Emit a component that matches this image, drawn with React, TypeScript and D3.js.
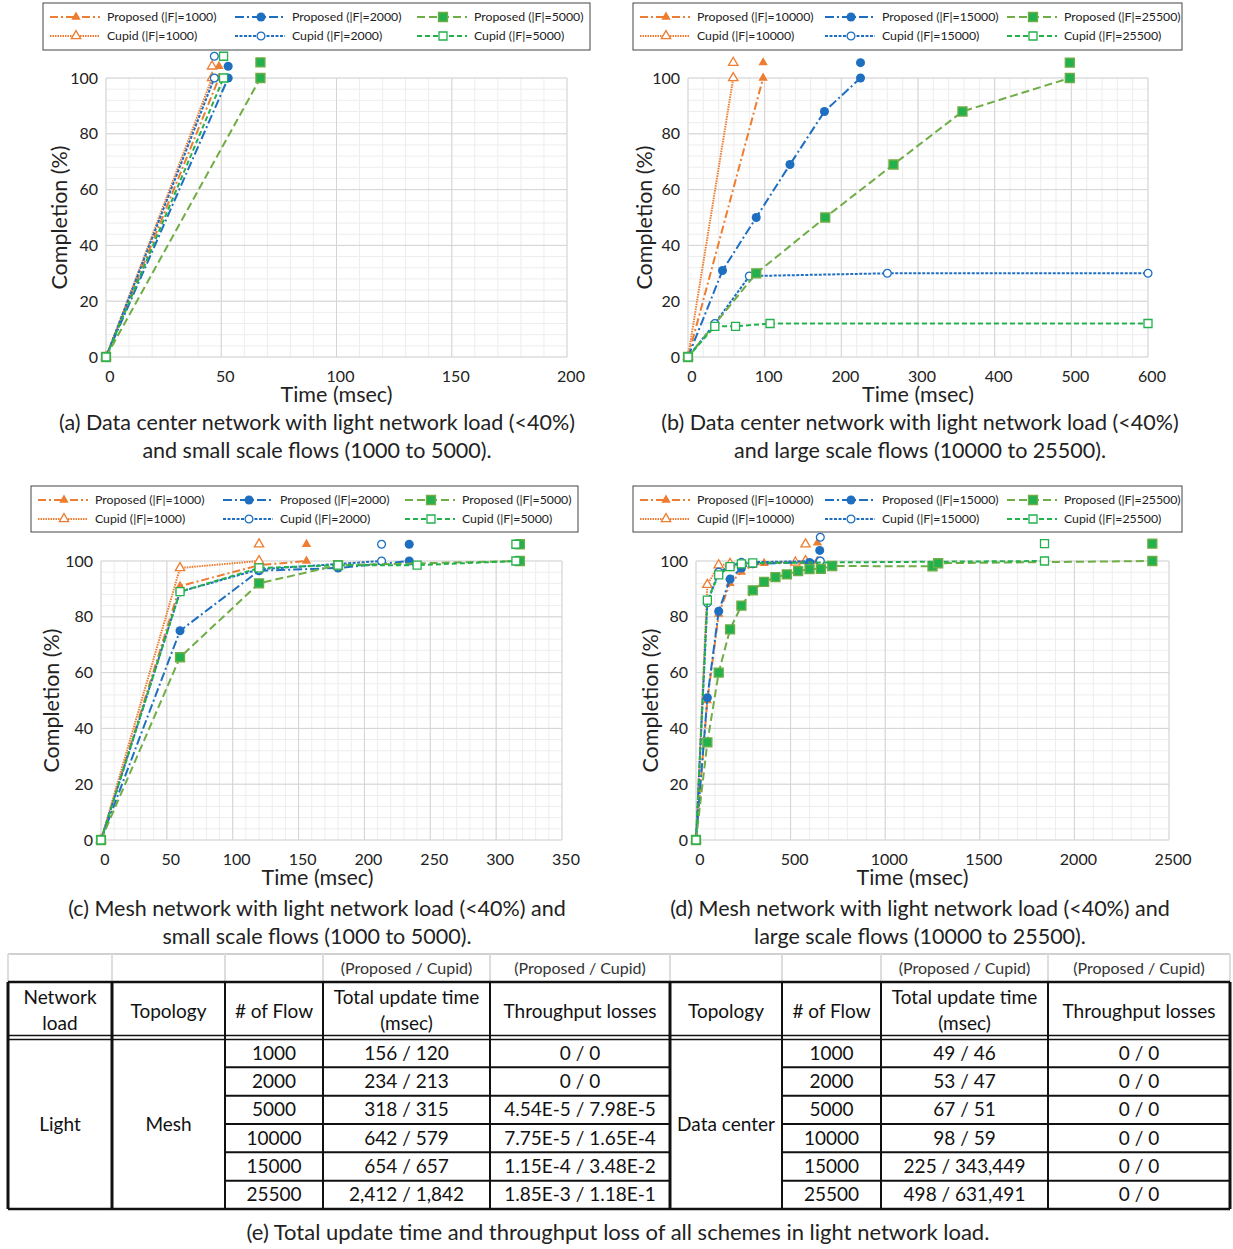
import React from 'react';
import * as d3 from 'd3';

const FONT = 'Lato, "Open Sans", sans-serif';
const ORANGE = '#ED7D31';
const BLUE = '#1F6FC0';
const GREEN_LINE = '#70AD47';
const GREEN = '#22B14C';

// ---- table data ----
const flows = [1000, 2000, 5000, 10000, 15000, 25500];
const meshProposed = [156, 234, 318, 642, 654, 2412];
const meshCupid = [120, 213, 315, 579, 657, 1842];
const meshLossProposed = [0, 0, 4.54e-5, 7.75e-5, 1.15e-4, 1.85e-3];
const meshLossCupid = [0, 0, 7.98e-5, 1.65e-4, 3.48e-2, 1.18e-1];
const dcProposed = [49, 53, 67, 98, 225, 498];
const dcCupid = [46, 47, 51, 59, 343449, 631491];
const dcLossProposed = [0, 0, 0, 0, 0, 0];
const dcLossCupid = [0, 0, 0, 0, 0, 0];

// ---- (a) data center, small flows ----
const aP1000 = [[0, 0], [49, 100]];
const aC1000 = [[0, 0], [46, 100]];
const aP2000 = [[0, 0], [53, 100]];
const aC2000 = [[0, 0], [47, 100]];
const aP5000 = [[0, 0], [67, 100]];
const aC5000 = [[0, 0], [51, 100]];
const aEnds = [[49, 104.2], [46, 104.2], [53, 104.2], [47, 107.8], [67, 105.6], [51, 107.8]];

// ---- (b) data center, large flows ----
const bP10000 = [[0, 0], [98, 100]];
const bC10000 = [[0, 0], [59, 100]];
const bP15000 = [[0, 0], [45, 31], [89, 50], [133, 69], [178, 88], [225, 100]];
const bC15000 = [[0, 0], [35, 12], [80, 29], [260, 30], [600, 30]];
const bP25500 = [[0, 0], [89, 30], [179, 50], [268, 69], [358, 88], [498, 100]];
const bC25500 = [[0, 0], [35, 11], [62, 11], [107, 12], [600, 12]];
const bEnds = [[98, 105.5], [59, 105.5], [225, 105.5], null, [498, 105.5], null];

// ---- (c) mesh, small flows ----
const cP1000 = [[0, 0], [60, 91], [120, 98.5], [156, 100]];
const cC1000 = [[0, 0], [60, 97.5], [120, 100]];
const cP2000 = [[0, 0], [60, 75], [120, 96.5], [180, 97.5], [234, 100]];
const cC2000 = [[0, 0], [60, 89], [120, 97], [213, 100]];
const cP5000 = [[0, 0], [60, 65.5], [120, 92], [180, 98.5], [318, 100]];
const cC5000 = [[0, 0], [60, 89], [120, 97.5], [180, 98.5], [240, 98.5], [315, 100]];
const cEnds = [[156, 106], [120, 106], [234, 106], [213, 106], [318, 106], [315, 106]];

// ---- (d) mesh, large flows ----
const dP10000 = [[0, 0], [60, 50], [120, 81], [180, 92], [240, 96], [300, 98.5], [360, 99.2], [642, 100]];
const dC10000 = [[0, 0], [60, 91.5], [120, 98.5], [180, 99], [525, 99.5], [579, 100]];
const dP15000 = [[0, 0], [60, 51], [120, 82], [180, 93.5], [240, 97.5], [300, 99], [600, 99.5], [654, 100]];
const dC15000 = [[0, 0], [60, 85], [120, 96], [180, 98], [240, 99.5], [657, 100]];
const dP25500 = [[0, 0], [60, 35], [120, 60], [180, 75.5], [240, 84], [300, 89.5], [360, 92.5], [420, 94.2],
  [480, 95.2], [540, 96.4], [600, 97.1], [660, 97.2], [720, 98.2], [1250, 98.1], [1280, 99.2], [2412, 100]];
const dC25500 = [[0, 0], [60, 86], [120, 95], [180, 98], [240, 99], [300, 99.3], [1842, 100]];
const dEnds = [[642, 106.5], [579, 106], [654, 103.8], [657, 108.5], [2412, 106.2], [1842, 106.2]];

const smallFlows = [1000, 2000, 5000];
const largeFlows = [10000, 15000, 25500];
const yTicks = [0, 20, 40, 60, 80, 100];

const styles = [
  { color: ORANGE, dash: '8,3,2,3', width: 2, sym: d3.symbolTriangle, size: 38, filled: true, label: 'Proposed' },
  { color: ORANGE, dash: '1.5,1', width: 2, sym: d3.symbolTriangle, size: 38, filled: false, label: 'Cupid' },
  { color: BLUE, dash: '9,3,2,3', width: 2, sym: d3.symbolCircle, size: 64, filled: true, label: 'Proposed' },
  { color: BLUE, dash: '3,1.5', width: 2, sym: d3.symbolCircle, size: 48, filled: false, label: 'Cupid' },
  { color: GREEN_LINE, dash: '8,4', width: 2, sym: d3.symbolSquare, size: 81, filled: true, label: 'Proposed' },
  { color: GREEN, dash: '5,3', width: 2, sym: d3.symbolSquare, size: 64, filled: false, label: 'Cupid' },
];

function Marker({ s, x, y }: any) {
  const path = d3.symbol(s.sym, s.size)() as string;
  const isSquare = s.sym === d3.symbolSquare;
  const fill = s.filled ? (isSquare ? GREEN : s.color) : '#fff';
  const stroke = s.filled ? (isSquare ? GREEN_LINE : 'none') : (isSquare ? GREEN : s.color);
  return <path d={path} transform={`translate(${x},${y})`} fill={fill} stroke={stroke} strokeWidth={1.3} />;
}

function Panel({ cfg }: any) {
  const xs = d3.scaleLinear().domain([0, cfg.xMax]).range([cfg.left, cfg.right]);
  const ys = d3.scaleLinear().domain([0, 100]).range([cfg.bottom, cfg.top]);
  const line = d3.line<number[]>().x((d) => xs(d[0])).y((d) => ys(d[1]));
  const minorX = d3.range(0, cfg.xMax + 0.001, cfg.xMinor);
  const majorX = d3.range(0, cfg.xMax + 0.001, cfg.xStep);
  const minorY = d3.range(0, 100.001, 4);
  const lb = cfg.legend;
  const colX = [7, 192, 374];
  return (
    <g>
      {minorX.map((v) => <line key={'mx' + v} x1={xs(v)} x2={xs(v)} y1={cfg.top} y2={cfg.bottom} stroke="#EDEDED" />)}
      {minorY.map((v) => <line key={'my' + v} x1={cfg.left} x2={cfg.right} y1={ys(v)} y2={ys(v)} stroke="#EDEDED" />)}
      {majorX.map((v) => <line key={'Mx' + v} x1={xs(v)} x2={xs(v)} y1={cfg.top} y2={cfg.bottom} stroke="#D4D4D4" />)}
      {yTicks.map((v) => <line key={'My' + v} x1={cfg.left} x2={cfg.right} y1={ys(v)} y2={ys(v)} stroke="#D4D4D4" />)}
      {yTicks.map((v) => (
        <text key={'yl' + v} x={cfg.left - 8} y={ys(v)} dy="0.35em" textAnchor="end" fontSize={16} fill="#222">{v}</text>
      ))}
      {majorX.map((v) => (
        <text key={'xl' + v} x={xs(v) + 4} y={cfg.bottom + 25} textAnchor="middle" fontSize={16} fill="#222">{v}</text>
      ))}
      <text x={(cfg.left + cfg.right) / 2 + cfg.xTitleDx} y={cfg.bottom + 45} textAnchor="middle" fontSize={21.5} fill="#222">Time (msec)</text>
      <text transform={`translate(${cfg.yTitleX},${(cfg.top + cfg.bottom) / 2}) rotate(-90)`} textAnchor="middle" fontSize={21.5} fill="#222">Completion (%)</text>
      {cfg.series.map((pts: number[][], i: number) => {
        const s = styles[i];
        return (
          <g key={'s' + i}>
            <path d={line(pts as any) as string} fill="none" stroke={s.color} strokeWidth={s.width} strokeDasharray={s.dash} />
            {pts.map((p, j) => <Marker key={j} s={s} x={xs(p[0])} y={ys(p[1])} />)}
            {cfg.ends[i] && <Marker s={s} x={xs(cfg.ends[i][0])} y={ys(cfg.ends[i][1])} />}
          </g>
        );
      })}
      <rect x={lb.x} y={lb.y} width={lb.w} height={lb.h} fill="#fff" stroke="#444" strokeWidth={1} />
      {styles.map((s, i) => {
        const col = Math.floor(i / 2);
        const row = i % 2;
        const x0 = lb.x + colX[col];
        const yy = lb.y + 14 + row * 19;
        return (
          <g key={'lg' + i}>
            <line x1={x0} x2={x0 + 50} y1={yy} y2={yy} stroke={s.color} strokeWidth={2} strokeDasharray={s.dash} />
            <Marker s={s} x={x0 + 26} y={yy} />
            <text x={x0 + 57} y={yy} dy="0.35em" fontSize={12.3} fill="#222">{`${s.label} (|F|=${cfg.flows[col]})`}</text>
          </g>
        );
      })}
      {cfg.caption.map((t: string, i: number) => (
        <text key={'cap' + i} x={cfg.capX} y={cfg.capY + i * 28} dy="0.35em" textAnchor="middle" fontSize={21.5} fill="#222">{t}</text>
      ))}
    </g>
  );
}

const panels = [
  {
    left: 106, right: 567, top: 78, bottom: 357, xMax: 200, xStep: 50, xMinor: 10, yTitleX: 67, xTitleDx: 0,
    series: [aP1000, aC1000, aP2000, aC2000, aP5000, aC5000], ends: aEnds, flows: smallFlows,
    legend: { x: 43, y: 3, w: 547, h: 47 }, capX: 317, capY: 422,
    caption: ['(a) Data center network with light network load (<40%)', 'and small scale flows (1000 to 5000).'],
  },
  {
    left: 688, right: 1148, top: 78, bottom: 357, xMax: 600, xStep: 100, xMinor: 20, yTitleX: 652, xTitleDx: 0,
    series: [bP10000, bC10000, bP15000, bC15000, bP25500, bC25500], ends: bEnds, flows: largeFlows,
    legend: { x: 633, y: 3, w: 549, h: 47 }, capX: 920, capY: 422,
    caption: ['(b) Data center network with light network load (<40%)', 'and large scale flows (10000 to 25500).'],
  },
  {
    left: 101, right: 562, top: 561, bottom: 840, xMax: 350, xStep: 50, xMinor: 10, yTitleX: 59, xTitleDx: -14,
    series: [cP1000, cC1000, cP2000, cC2000, cP5000, cC5000], ends: cEnds, flows: smallFlows,
    legend: { x: 31, y: 486, w: 547, h: 46 }, capX: 317, capY: 908,
    caption: ['(c) Mesh network with light network load (<40%) and', 'small scale flows (1000 to 5000).'],
  },
  {
    left: 696, right: 1169, top: 561, bottom: 840, xMax: 2500, xStep: 500, xMinor: 100, yTitleX: 658, xTitleDx: -20,
    series: [dP10000, dC10000, dP15000, dC15000, dP25500, dC25500], ends: dEnds, flows: largeFlows,
    legend: { x: 633, y: 486, w: 549, h: 46 }, capX: 920, capY: 908,
    caption: ['(d) Mesh network with light network load (<40%) and', 'large scale flows (10000 to 25500).'],
  },
];

const fmtInt = d3.format(',');
const fmtLoss = (v: number) => (v === 0 ? '0' : d3.format('.2e')(v).replace('e', 'E').replace('+', ''));

function Table() {
  const cols = [8, 112, 225, 323, 490, 670, 782, 881, 1048, 1230];
  const rowY = d3.scaleLinear().domain([0, 6]).range([1039, 1209]);
  const mid = (i: number) => (cols[i] + cols[i + 1]) / 2;
  const fs = 19;
  const header = (off: number) => (
    <g>
      <text x={mid(off + 1)} y={1011} dy="0.35em" textAnchor="middle" fontSize={fs}>Topology</text>
      <text x={mid(off + 2)} y={1011} dy="0.35em" textAnchor="middle" fontSize={fs}># of Flow</text>
      <text x={mid(off + 3)} y={997} dy="0.35em" textAnchor="middle" fontSize={fs}>Total update time</text>
      <text x={mid(off + 3)} y={1023} dy="0.35em" textAnchor="middle" fontSize={fs}>(msec)</text>
      <text x={mid(off + 4)} y={1011} dy="0.35em" textAnchor="middle" fontSize={fs}>Throughput losses</text>
      <text x={mid(off + 3)} y={968} dy="0.35em" textAnchor="middle" fontSize={16} fill="#333">(Proposed / Cupid)</text>
      <text x={mid(off + 4)} y={968} dy="0.35em" textAnchor="middle" fontSize={16} fill="#333">(Proposed / Cupid)</text>
    </g>
  );
  const body = (off: number, tp: number[], tc: number[], lp: number[], lc: number[]) =>
    flows.map((f, i) => {
      const y = (rowY(i) + rowY(i + 1)) / 2;
      return (
        <g key={off + '-' + i}>
          <text x={mid(off + 2)} y={y} dy="0.35em" textAnchor="middle" fontSize={fs}>{f}</text>
          <text x={mid(off + 3)} y={y} dy="0.35em" textAnchor="middle" fontSize={fs}>{`${fmtInt(tp[i])} / ${fmtInt(tc[i])}`}</text>
          <text x={mid(off + 4)} y={y} dy="0.35em" textAnchor="middle" fontSize={fs}>{`${fmtLoss(lp[i])} / ${fmtLoss(lc[i])}`}</text>
        </g>
      );
    });
  return (
    <g fill="#111">
      <line x1={cols[0]} x2={cols[9]} y1={954} y2={954} stroke="#D0D0D0" strokeWidth={2} />
      {cols.map((c) => <line key={'g' + c} x1={c} x2={c} y1={954} y2={982} stroke="#DDD" strokeWidth={2} />)}
      <line x1={cols[0]} x2={cols[9]} y1={982} y2={982} stroke="#111" strokeWidth={2.5} />
      <line x1={cols[0]} x2={cols[9]} y1={1035.5} y2={1035.5} stroke="#111" strokeWidth={1.5} />
      <line x1={cols[0]} x2={cols[9]} y1={1039.5} y2={1039.5} stroke="#111" strokeWidth={1.5} />
      {d3.range(1, 6).map((i) => (
        <g key={'r' + i}>
          <line x1={cols[2]} x2={cols[5]} y1={rowY(i)} y2={rowY(i)} stroke="#111" strokeWidth={2} />
          <line x1={cols[6]} x2={cols[9]} y1={rowY(i)} y2={rowY(i)} stroke="#111" strokeWidth={2} />
        </g>
      ))}
      <line x1={cols[0]} x2={cols[9]} y1={1209} y2={1209} stroke="#111" strokeWidth={2.5} />
      {cols.map((c, i) => (
        <line key={'v' + c} x1={c} x2={c} y1={982} y2={1209} stroke="#111"
          strokeWidth={i === 0 || i === 1 || i === 5 || i === 9 ? 3 : 2} />
      ))}
      <text x={mid(0)} y={997} dy="0.35em" textAnchor="middle" fontSize={fs}>Network</text>
      <text x={mid(0)} y={1023} dy="0.35em" textAnchor="middle" fontSize={fs}>load</text>
      {header(0)}
      {header(4)}
      <text x={mid(0)} y={1124} dy="0.35em" textAnchor="middle" fontSize={fs}>Light</text>
      <text x={mid(1)} y={1124} dy="0.35em" textAnchor="middle" fontSize={fs}>Mesh</text>
      <text x={mid(5)} y={1124} dy="0.35em" textAnchor="middle" fontSize={fs}>Data center</text>
      {body(0, meshProposed, meshCupid, meshLossProposed, meshLossCupid)}
      {body(4, dcProposed, dcCupid, dcLossProposed, dcLossCupid)}
      <text x={618} y={1232} dy="0.35em" textAnchor="middle" fontSize={22} fill="#222">
        (e) Total update time and throughput loss of all schemes in light network load.
      </text>
    </g>
  );
}

export default function App() {
  return (
    <svg width={1233} height={1249} style={{ position: 'absolute', left: 0, top: 0, background: '#fff' }}
      fontFamily={FONT}>
      <rect width={1233} height={1249} fill="#fff" />
      {panels.map((p, i) => <Panel key={i} cfg={p} />)}
      <Table />
    </svg>
  );
}
